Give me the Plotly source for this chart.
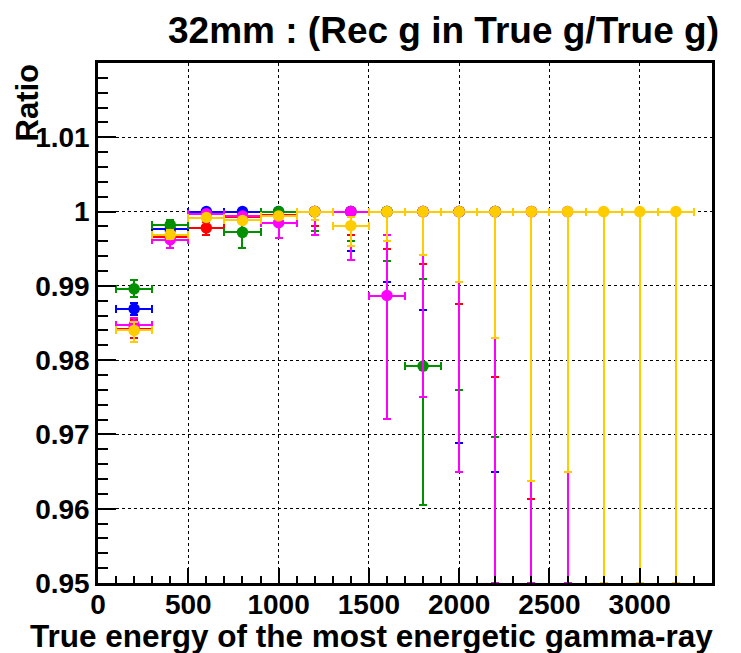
import plotly.graph_objects as go

# ---------------- data ----------------
energies = [200, 400, 600, 800, 1000, 1200, 1400, 1600, 1800, 2000, 2200, 2400, 2600, 2800, 3000, 3200]
bin_half_width = [100] * 16

red_y  = [0.9842, 0.9966, 0.9978, 0.9993, 0.9995, 1.0, 1.0, 1.0, 1.0, 1.0, 1.0, 1.0, None, None, None, None]
red_up = [0.0012, 0.0005, 0.0008, 0.0005, 0.0004, 0, 0, 0, 0, 0, 0, 0, None, None, None, None]
red_dn = [0.0012, 0.0006, 0.0009, 0.0005, 0.0004, 0.0019, 0.0031, 0.0051, 0.0070, 0.0125, 0.0223, 0.0387, None, None, None, None]

blue_y  = [0.9869, 0.9976, 1.0, 1.0, 1.0, 1.0, 1.0, 1.0, 1.0, 1.0, 1.0, None, None, None, None, None]
blue_up = [0.0008, 0.0005, 0, 0, 0, 0, 0, 0, 0, 0, 0, None, None, None, None, None]
blue_dn = [0.0008, 0.0005, 0.0002, 0.0003, 0.0005, 0.0031, 0.0053, 0.0095, 0.0132, 0.0312, 0.0351, None, None, None, None, None]

green_y  = [0.9896, 0.9982, None, 0.9972, 1.0, 1.0, 1.0, 1.0, 0.9792, 1.0, 1.0, None, None, None, None, None]
green_up = [0.0012, 0.0006, None, 0.0012, 0, 0, 0, 0, 0.0117, 0, 0, None, None, None, None, None]
green_dn = [0.0011, 0.0006, None, 0.0021, 0.0005, 0.0026, 0.0040, 0.0066, 0.0187, 0.0240, 0.0304, None, None, None, None, None]

magenta_y  = [0.9847, 0.9962, 0.9997, 0.9994, 0.9985, 1.0, 1.0, 0.9887, 1.0, 1.0, 1.0, 1.0, 1.0, None, None, None]
magenta_up = [0.0010, 0.0005, 0.0003, 0.0003, 0.0010, 0, 0, 0.0081, 0, 0, 0, 0, 0, None, None, None]
magenta_dn = [0.0010, 0.0011, 0.0003, 0.0003, 0.0021, 0.0032, 0.0065, 0.0166, 0.0250, 0.0350, 0.05, 0.05, 0.05, None, None, None]

yellow_y  = [0.9840, 0.9969, 0.9992, 0.9988, 0.9994, 1.0, 0.9981, 1.0, 1.0, 1.0, 1.0, 1.0, 1.0, 1.0, 1.0, 1.0]
yellow_up = [0.0012, 0.0006, 0.0004, 0.0004, 0.0004, 0, 0.0012, 0, 0, 0, 0, 0, 0, 0, 0, 0]
yellow_dn = [0.0016, 0.0006, 0.0004, 0.0004, 0.0004, 0.0012, 0.0028, 0.0040, 0.0059, 0.0095, 0.0170, 0.0363, 0.0351, 0.05, 0.05, 0.05]

x_tick_vals = [0, 500, 1000, 1500, 2000, 2500, 3000]
x_tick_text = ["0", "500", "1000", "1500", "2000", "2500", "3000"]
y_tick_vals = [0.95, 0.96, 0.97, 0.98, 0.99, 1.00, 1.01]
y_tick_text = ["0.95", "0.96", "0.97", "0.98", "0.99", "1", "1.01"]

title_text = "32mm : (Rec g in True g/True g)"
x_title = "True energy of the most energetic gamma-ray"
y_title = "Ratio"

# (values, upper errors, lower errors, colour) in drawing order
series = [
    (red_y, red_up, red_dn, "#ff0000"),
    (blue_y, blue_up, blue_dn, "#0000ff"),
    (green_y, green_up, green_dn, "#009000"),
    (magenta_y, magenta_up, magenta_dn, "#ff00ff"),
    (yellow_y, yellow_up, yellow_dn, "#ffcc00"),
]

FONT = "Liberation Sans"

fig = go.Figure()
for ys, up, dn, col in series:
    fig.add_trace(go.Scatter(
        x=energies, y=ys, mode="markers",
        marker=dict(symbol="circle", size=11.5, color=col, line=dict(width=0)),
        error_y=dict(type="data", symmetric=False, array=up, arrayminus=dn,
                     color=col, thickness=2, width=4),
        error_x=dict(type="data", array=bin_half_width, color=col, thickness=2, width=4),
        showlegend=False,
    ))

fig.update_layout(
    width=741, height=653,
    margin=dict(l=98, r=29, t=63, b=70),
    paper_bgcolor="white", plot_bgcolor="white",
    font=dict(family=FONT, size=28, color="black", weight="bold"),
)
fig.update_xaxes(
    range=[0, 3400], tickvals=x_tick_vals, ticktext=x_tick_text,
    ticks="inside", ticklen=15, tickwidth=1.5, tickcolor="black",
    minor=dict(dtick=100, ticks="inside", ticklen=7, tickwidth=1.5, tickcolor="black", showgrid=False),
    showline=True, linecolor="black", linewidth=2.5, mirror=True,
    showgrid=True, gridcolor="black", griddash="dot", gridwidth=1,
    zeroline=False, ticklabelstandoff=-5,
    tickfont=dict(family=FONT, size=28, weight="bold"),
)
fig.update_yaxes(
    range=[0.95, 1.02], tickvals=y_tick_vals, ticktext=y_tick_text,
    ticks="inside", ticklen=18, tickwidth=1.5, tickcolor="black",
    minor=dict(dtick=0.002, tick0=0.95, ticks="inside", ticklen=10, tickwidth=1.5, tickcolor="black", showgrid=False),
    showline=True, linecolor="black", linewidth=2.5, mirror=True,
    showgrid=True, gridcolor="black", griddash="dot", gridwidth=1,
    zeroline=False, tickfont=dict(family=FONT, size=28, weight="bold"),
)

fig.add_annotation(text=title_text, xref="paper", yref="paper", x=1, y=1,
                   xanchor="right", yanchor="bottom", xshift=9, yshift=10, showarrow=False,
                   font=dict(family=FONT, size=37, weight="bold"))
fig.add_annotation(text=x_title, xref="paper", yref="paper", x=1, y=0,
                   xanchor="right", yanchor="top", xshift=3, yshift=-33, showarrow=False,
                   font=dict(family=FONT, size=31.5, weight="bold"))
fig.add_annotation(text=y_title, xref="paper", yref="paper", x=0, y=1,
                   xanchor="right", yanchor="top", xshift=-52, yshift=1, textangle=-90, showarrow=False,
                   font=dict(family=FONT, size=31, weight="bold"))

# crisp (non-antialiased) error bars so overlapping bars of later series fully cover earlier ones
crisp_js = ("var s=document.createElement('style');"
            "s.innerHTML='.errorbar path{shape-rendering:crispEdges}';"
            "document.head.appendChild(s);")

fig.write_html("out.html", post_script=crisp_js)
